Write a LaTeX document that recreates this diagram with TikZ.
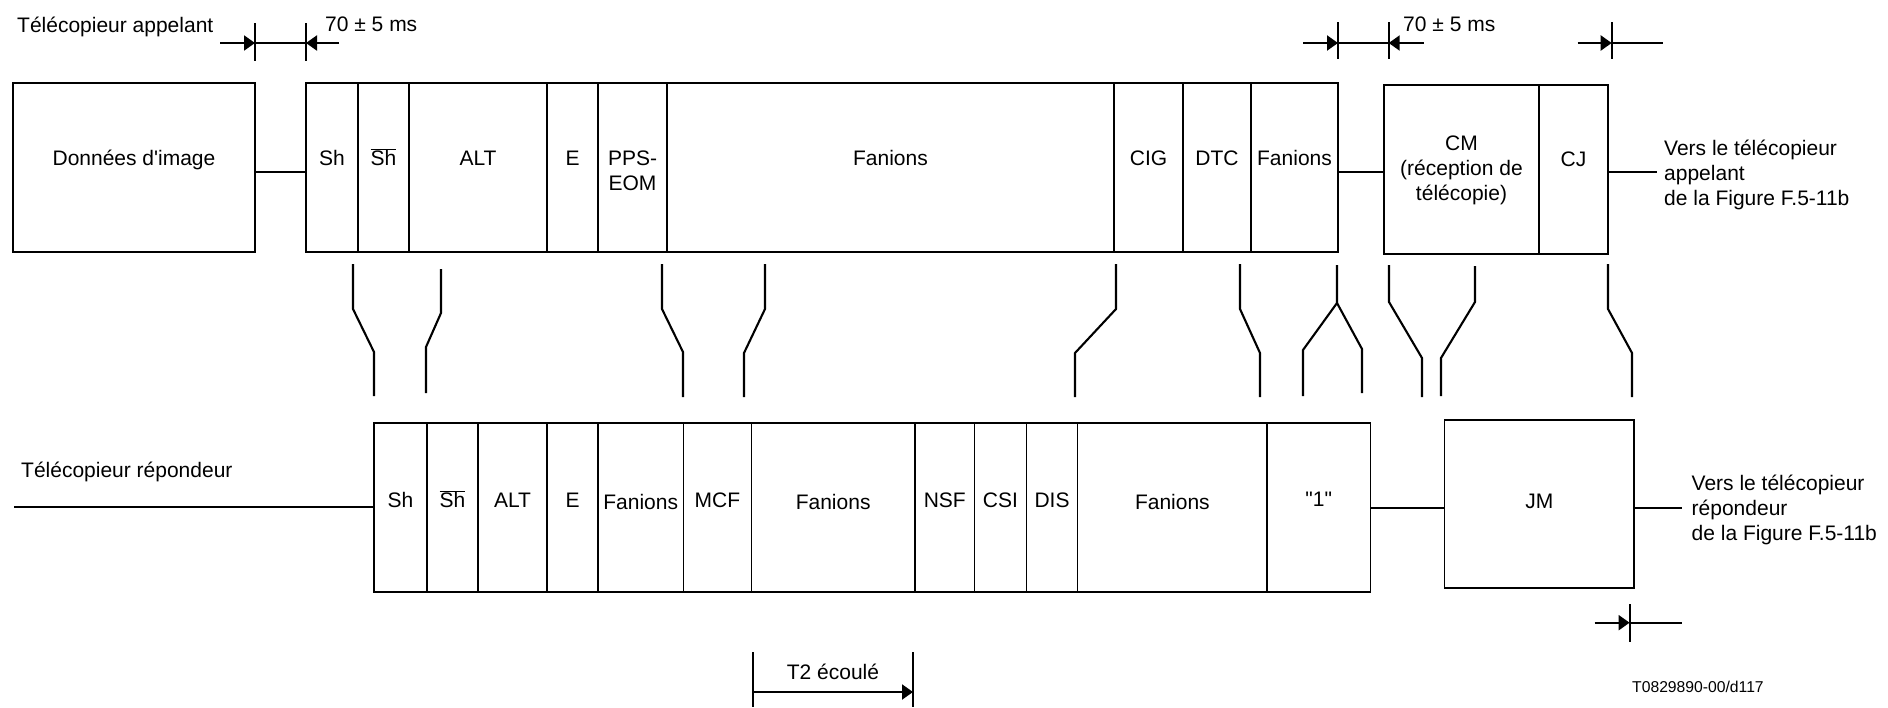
\documentclass[tikz,border=0pt]{standalone}
\usepackage{fontspec}
\setmainfont{Liberation Sans}[Ligatures=TeXOff]
\usetikzlibrary{arrows.meta,calc}
\newcommand\mkcell[7]{%
  \node[cellbox, minimum width={(#4)-(#2)}, minimum height={(#5)-(#3)}] (#1) at (#2,#3) {};
  \node[lbl, anchor=base] (#1t) at ({((#2)+(#4))/2},#6) {#7};
}
\newcommand\mkcellc[7]{%
  \node[cellbox, minimum width={(#4)-(#2)}, minimum height={(#5)-(#3)}] (#1) at (#2,#3) {};
  \node[lbl, anchor=center] (#1t) at ({((#2)+(#4))/2},#6) {#7};
}
\begin{document}
\begin{tikzpicture}[x=1pt,y=-1pt,
  thinline/.style={line width=1.2pt},
  thickline/.style={line width=2.1pt},
  cellbox/.style={draw, line width=1.2pt, inner sep=0pt, outer sep=0pt, anchor=north west},
  lbl/.style={inner sep=0pt, align=center, font=\fontsize{21}{25}\selectfont},
  txt/.style={inner sep=0pt, align=left, font=\fontsize{21}{25}\selectfont},
  small/.style={inner sep=0pt, font=\fontsize{15.7}{19}\selectfont},
  tip/.style={-{Triangle[length=11pt,width=15pt]}},
]
\useasboundingbox (0,0) rectangle (1888,707);

% ---------- titles and texts
\node[txt, anchor=base west] (titA) at (17,32.5) {Télécopieur appelant};
\node[txt, anchor=base west] (titB) at (21,477.5) {Télécopieur répondeur};
\node[txt, anchor=base west] (dimAt) at (325,31.5) {70 ± 5 ms};
\node[txt, anchor=base west] (dimBt) at (1403,31.5) {70 ± 5 ms};
\node[txt, anchor=west] (vA) at (1664,175) {Vers le télécopieur\\appelant\\de la Figure F.5-11b};
\node[txt, anchor=west] (vB) at (1691.5,510) {Vers le télécopieur\\répondeur\\de la Figure F.5-11b};
\node[txt, anchor=base] (t2t) at (833,679) {T2 écoulé};
\node[small, anchor=base west] (ref) at (1632,692.3) {T0829890-00/d117};

% ---------- top row
\mkcell{don}{13}{83}{255}{252}{165.5}{Données d'image}
\mkcell{tsh}{306}{83}{358}{252}{165.5}{Sh}
\mkcell{tshb}{358}{83}{409}{252}{165.5}{$\overline{\mbox{Sh}}$}
\mkcell{talt}{409}{83}{547}{252}{165.5}{ALT}
\mkcell{te}{547}{83}{598}{252}{165.5}{E}
\mkcellc{tpps}{598}{83}{667}{252}{170.5}{PPS-\\EOM}
\mkcell{tfana}{667}{83}{1114}{252}{165.5}{Fanions}
\mkcell{tcig}{1114}{83}{1183}{252}{165.5}{CIG}
\mkcell{tdtc}{1183}{83}{1251}{252}{165.5}{DTC}
\mkcell{tfanb}{1251}{83}{1338}{252}{165.5}{Fanions}
\mkcellc{tcm}{1384}{85}{1539}{254}{170}{CM\\(réception de\\télécopie)}
\mkcell{tcj}{1539}{85}{1608}{254}{166.5}{CJ}

% ---------- bottom row
\mkcell{bsh}{374}{423}{427}{592}{507.5}{Sh}
\mkcell{bshb}{427}{423}{478}{592}{507.5}{$\overline{\mbox{Sh}}$}
\mkcell{balt}{478}{423}{547}{592}{507.5}{ALT}
\mkcell{be}{547}{423}{598}{592}{507.5}{E}
\mkcell{bfana}{598}{423}{683.5}{592}{509}{Fanions}
\mkcell{bmcf}{683.5}{423}{751.3}{592}{507.5}{MCF}
\mkcell{bfanb}{751.3}{423}{915}{592}{509}{Fanions}
\mkcell{bnsf}{915}{423}{974.6}{592}{507.5}{NSF}
\mkcell{bcsi}{974.6}{423}{1026.3}{592}{507.5}{CSI}
\mkcell{bdis}{1026.3}{423}{1077.7}{592}{507.5}{DIS}
\mkcell{bfanc}{1077.7}{423}{1267}{592}{509}{Fanions}
\mkcell{bone}{1267}{423}{1370.4}{592}{506}{"1"}
\mkcell{bjm}{1444.5}{420}{1634}{588}{508}{JM}

% ---------- horizontal links
\draw[thickline] (don.east |- 0,172) -- (tsh.west |- 0,172);
\draw[thickline] (tfanb.east |- 0,172) -- (tcm.west |- 0,172);
\draw[thickline] (tcj.east |- 0,172) -- ($(vA.west |- 0,172)+(-7,0)$);
\coordinate (lstart) at (14,507);
\draw[thickline] (lstart) -- (bsh.west |- lstart);
\draw[thickline] (bone.east |- 0,508) -- (bjm.west |- 0,508);
\draw[thickline] (bjm.east |- 0,508) -- ($(vB.west |- 0,508)+(-10,0)$);

% ---------- leader lines between the rows
\coordinate (k1t) at (353,264);  \coordinate (k1b) at (374,396);
\coordinate (k2t) at (441,269);  \coordinate (k2b) at (426,393);
\coordinate (k3t) at (662,264);  \coordinate (k3b) at (683,397);
\coordinate (k4t) at (765,264);  \coordinate (k4b) at (744,397);
\coordinate (k5t) at (1116,264); \coordinate (k5b) at (1075,397);
\coordinate (k6t) at (1240,264); \coordinate (k6b) at (1260,397);
\coordinate (k7t) at (1337,265); \coordinate (k7l) at (1303,396); \coordinate (k7r) at (1362,393);
\coordinate (k8t) at (1389,265); \coordinate (k8b) at (1422,397);
\coordinate (k9t) at (1475,266); \coordinate (k9b) at (1441,396);
\coordinate (kAt) at (1608,264); \coordinate (kAb) at (1632,397);

\draw[thickline] (k1t) -- (k1t |- 0,309) -- (k1b |- 0,352) -- (k1b);
\draw[thickline] (k2t) -- (k2t |- 0,313) -- (k2b |- 0,347) -- (k2b);
\draw[thickline] (k3t) -- (k3t |- 0,309) -- (k3b |- 0,352) -- (k3b);
\draw[thickline] (k4t) -- (k4t |- 0,309) -- (k4b |- 0,353) -- (k4b);
\draw[thickline] (k5t) -- (k5t |- 0,309) -- (k5b |- 0,353) -- (k5b);
\draw[thickline] (k6t) -- (k6t |- 0,309) -- (k6b |- 0,353) -- (k6b);
\draw[thickline] (k7t) -- (k7t |- 0,303) coordinate (k7m) -- (k7l |- 0,350) -- (k7l);
\draw[thickline] (k7m) -- (k7r |- 0,349) -- (k7r);
\draw[thickline] (k8t) -- (k8t |- 0,302) -- (k8b |- 0,358) -- (k8b);
\draw[thickline] (k9t) -- (k9t |- 0,302) -- (k9b |- 0,358) -- (k9b);
\draw[thickline] (kAt) -- (kAt |- 0,309) -- (kAb |- 0,353) -- (kAb);

% ---------- dimension marks
\coordinate (d1l) at (255,43); \coordinate (d1r) at (306,43);
\draw[thickline] (d1l |- 0,23) -- (d1l |- 0,61);
\draw[thickline] (d1r |- 0,23) -- (d1r |- 0,61);
\draw[thickline, tip] ($(d1l)+(-35,0)$) -- (d1l);
\draw[thickline] (d1l) -- (d1r);
\draw[thickline, tip] ($(d1r)+(33,0)$) -- (d1r);

\coordinate (d2l) at (1338,43); \coordinate (d2r) at (1388.7,43);
\draw[thickline] (d2l |- 0,22) -- (d2l |- 0,59);
\draw[thickline] (d2r |- 0,22) -- (d2r |- 0,59);
\draw[thickline, tip] ($(d2l)+(-35,0)$) -- (d2l);
\draw[thickline] (d2l) -- (d2r);
\draw[thickline, tip] ($(d2r)+(35,0)$) -- (d2r);

\coordinate (d3) at (1611.7,43);
\draw[thickline] (d3 |- 0,22) -- (d3 |- 0,59);
\draw[thickline, tip] ($(d3)+(-34,0)$) -- (d3);
\draw[thickline] (d3) -- ++(51,0);

\coordinate (d4) at (1629.6,622.7);
\draw[thickline] (d4 |- 0,604) -- (d4 |- 0,642);
\draw[thickline, tip] ($(d4)+(-35,0)$) -- (d4);
\draw[thickline] (d4) -- ++(52,0);

\coordinate (t2l) at (752.7,692); \coordinate (t2r) at (913,692);
\draw[thickline] (t2l |- 0,652) -- (t2l |- 0,707);
\draw[thickline] (t2r |- 0,652) -- (t2r |- 0,707);
\draw[thickline, tip] (t2l) -- (t2r);
\end{tikzpicture}
\end{document}
